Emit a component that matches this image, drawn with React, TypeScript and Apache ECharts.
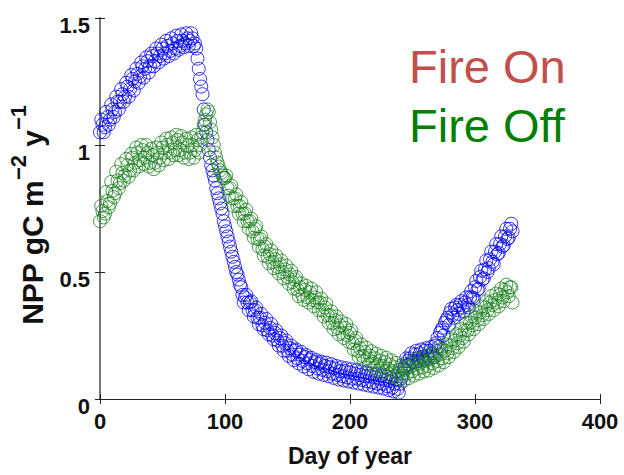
import React, { useEffect, useRef } from "react";
import * as echarts from "echarts";

// Day of year for the first read of each band (even days) and the second read (odd days)
const evenDays = [
  0, 2, 4, 6, 8, 10, 12, 14, 16, 18,
  20, 22, 24, 26, 28, 30, 32, 34, 36, 38,
  40, 42, 44, 46, 48, 50, 52, 54, 56, 58,
  60, 62, 64, 66, 68, 70, 72, 74, 76, 78,
  80, 82, 84, 86, 88, 90, 92, 94, 96, 98,
  100, 102, 104, 106, 108, 110, 112, 114, 116, 118,
  120, 122, 124, 126, 128, 130, 132, 134, 136, 138,
  140, 142, 144, 146, 148, 150, 152, 154, 156, 158,
  160, 162, 164, 166, 168, 170, 172, 174, 176, 178,
  180, 182, 184, 186, 188, 190, 192, 194, 196, 198,
  200, 202, 204, 206, 208, 210, 212, 214, 216, 218,
  220, 222, 224, 226, 228, 230, 232, 234, 236, 238,
  240, 242, 244, 246, 248, 250, 252, 254, 256, 258,
  260, 262, 264, 266, 268, 270, 272, 274, 276, 278,
  280, 282, 284, 286, 288, 290, 292, 294, 296, 298,
  300, 302, 304, 306, 308, 310, 312, 314, 316, 318,
  320, 322, 324, 326, 328, 330,
];

const oddDays = [
  1, 3, 5, 7, 9, 11, 13, 15, 17, 19,
  21, 23, 25, 27, 29, 31, 33, 35, 37, 39,
  41, 43, 45, 47, 49, 51, 53, 55, 57, 59,
  61, 63, 65, 67, 69, 71, 73, 75, 77, 79,
  81, 83, 85, 87, 89, 91, 93, 95, 97, 99,
  101, 103, 105, 107, 109, 111, 113, 115, 117, 119,
  121, 123, 125, 127, 129, 131, 133, 135, 137, 139,
  141, 143, 145, 147, 149, 151, 153, 155, 157, 159,
  161, 163, 165, 167, 169, 171, 173, 175, 177, 179,
  181, 183, 185, 187, 189, 191, 193, 195, 197, 199,
  201, 203, 205, 207, 209, 211, 213, 215, 217, 219,
  221, 223, 225, 227, 229, 231, 233, 235, 237, 239,
  241, 243, 245, 247, 249, 251, 253, 255, 257, 259,
  261, 263, 265, 267, 269, 271, 273, 275, 277, 279,
  281, 283, 285, 287, 289, 291, 293, 295, 297, 299,
  301, 303, 305, 307, 309, 311, 313, 315, 317, 319,
  321, 323, 325, 327, 329,
];

// Fire On (blue), NPP gC m-2 y-1
const fireOnEven = [
  1.05, 1.08, 1.07, 1.11, 1.1, 1.14, 1.13, 1.17, 1.17, 1.2,
  1.19, 1.23, 1.22, 1.26, 1.25, 1.28, 1.27, 1.31, 1.3, 1.33,
  1.31, 1.35, 1.33, 1.36, 1.35, 1.38, 1.36, 1.39, 1.37, 1.4,
  1.38, 1.41, 1.39, 1.41, 1.4, 1.42, 1.41, 1.42, 1.4, 1.34,
  1.26, 1.2, 1.08, 1.02, 0.95, 0.9, 0.86, 0.81, 0.77, 0.73,
  0.68, 0.64, 0.6, 0.56, 0.52, 0.49, 0.45, 0.41, 0.4, 0.38,
  0.38, 0.35, 0.35, 0.32, 0.32, 0.29, 0.3, 0.27, 0.28, 0.25,
  0.26, 0.23, 0.24, 0.21, 0.22, 0.19, 0.2, 0.175, 0.19, 0.16,
  0.175, 0.15, 0.165, 0.14, 0.155, 0.13, 0.145, 0.12, 0.14, 0.115,
  0.13, 0.11, 0.125, 0.1, 0.12, 0.095, 0.11, 0.09, 0.11, 0.085,
  0.105, 0.08, 0.1, 0.08, 0.095, 0.075, 0.09, 0.07, 0.09, 0.065,
  0.085, 0.06, 0.08, 0.06, 0.075, 0.05, 0.07, 0.045, 0.06, 0.04,
  0.06, 0.1, 0.13, 0.15, 0.16, 0.15, 0.175, 0.16, 0.18, 0.165,
  0.19, 0.17, 0.19, 0.18, 0.21, 0.24, 0.26, 0.28, 0.3, 0.32,
  0.34, 0.33, 0.36, 0.35, 0.37, 0.36, 0.38, 0.37, 0.4, 0.4,
  0.44, 0.43, 0.48, 0.47, 0.51, 0.5, 0.55, 0.54, 0.58, 0.57,
  0.61, 0.6, 0.64, 0.63, 0.67, 0.66,
];

const fireOnOdd = [
  1.1, 1.05, 1.13, 1.08, 1.16, 1.11, 1.19, 1.14, 1.22, 1.17,
  1.245, 1.19, 1.275, 1.215, 1.3, 1.245, 1.325, 1.265, 1.345, 1.285,
  1.36, 1.31, 1.38, 1.325, 1.395, 1.34, 1.41, 1.35, 1.42, 1.36,
  1.43, 1.375, 1.435, 1.385, 1.44, 1.39, 1.44, 1.39, 1.38, 1.3,
  1.23, 1.14, 1.05, 0.98, 0.92, 0.88, 0.83, 0.79, 0.75, 0.7,
  0.66, 0.62, 0.58, 0.54, 0.5, 0.47, 0.44, 0.38, 0.41, 0.35,
  0.385, 0.325, 0.36, 0.295, 0.335, 0.275, 0.315, 0.255, 0.295, 0.235,
  0.27, 0.21, 0.25, 0.19, 0.23, 0.17, 0.21, 0.153, 0.195, 0.14,
  0.185, 0.128, 0.173, 0.117, 0.162, 0.107, 0.153, 0.1, 0.147, 0.095,
  0.143, 0.09, 0.137, 0.083, 0.13, 0.077, 0.125, 0.073, 0.121, 0.069,
  0.117, 0.065, 0.113, 0.061, 0.109, 0.057, 0.105, 0.053, 0.101, 0.049,
  0.097, 0.045, 0.093, 0.041, 0.089, 0.035, 0.083, 0.03, 0.077, 0.025,
  0.08, 0.12, 0.16, 0.135, 0.18, 0.145, 0.19, 0.15, 0.195, 0.155,
  0.2, 0.16, 0.205, 0.165, 0.22, 0.205, 0.27, 0.25, 0.31, 0.29,
  0.355, 0.32, 0.37, 0.335, 0.385, 0.345, 0.4, 0.36, 0.425, 0.395,
  0.465, 0.435, 0.505, 0.475, 0.545, 0.515, 0.58, 0.53, 0.61, 0.575,
  0.64, 0.605, 0.67, 0.635, 0.69,
];

// Fire Off (green), NPP gC m-2 y-1
const fireOffEven = [
  0.7, 0.74, 0.73, 0.78, 0.77, 0.82, 0.81, 0.86, 0.85, 0.89,
  0.88, 0.92, 0.9, 0.95, 0.93, 0.97, 0.94, 0.98, 0.95, 0.97,
  0.93, 0.96, 0.93, 0.97, 0.95, 0.99, 0.97, 1.0, 0.97, 1.01,
  0.98, 1.02, 0.98, 1.01, 0.97, 1.0, 0.97, 1.0, 0.98, 1.02,
  1.0, 1.05, 1.1, 1.14, 1.09, 1.03, 0.97, 0.93, 0.9, 0.88,
  0.87, 0.83, 0.83, 0.79, 0.79, 0.76, 0.76, 0.73, 0.73, 0.7,
  0.7, 0.66, 0.67, 0.63, 0.63, 0.59, 0.6, 0.56, 0.57, 0.54,
  0.55, 0.52, 0.53, 0.5, 0.51, 0.48, 0.49, 0.46, 0.47, 0.43,
  0.44, 0.41, 0.43, 0.4, 0.42, 0.39, 0.4, 0.38, 0.38, 0.35,
  0.36, 0.33, 0.33, 0.3, 0.31, 0.28, 0.29, 0.26, 0.28, 0.25,
  0.26, 0.22, 0.23, 0.19, 0.2, 0.17, 0.185, 0.16, 0.17, 0.145,
  0.16, 0.135, 0.15, 0.13, 0.145, 0.12, 0.135, 0.11, 0.125, 0.1,
  0.115, 0.09, 0.115, 0.1, 0.125, 0.11, 0.135, 0.12, 0.14, 0.125,
  0.15, 0.13, 0.155, 0.14, 0.165, 0.15, 0.175, 0.16, 0.19, 0.18,
  0.21, 0.2, 0.23, 0.22, 0.25, 0.24, 0.27, 0.27, 0.3, 0.29,
  0.32, 0.31, 0.34, 0.33, 0.36, 0.35, 0.38, 0.37, 0.39, 0.38,
  0.41, 0.4, 0.43, 0.42, 0.44, 0.38,
];

const fireOffOdd = [
  0.76, 0.715, 0.815, 0.755, 0.855, 0.795, 0.895, 0.83, 0.925, 0.86,
  0.945, 0.875, 0.965, 0.9, 0.99, 0.915, 1.0, 0.925, 1.0, 0.915,
  0.985, 0.905, 0.99, 0.92, 1.01, 0.94, 1.025, 0.945, 1.03, 0.96,
  1.04, 0.96, 1.035, 0.95, 1.025, 0.945, 1.03, 0.95, 1.04, 0.97,
  1.03, 1.08, 1.12, 1.13, 1.06, 1.0, 0.95, 0.915, 0.89, 0.87,
  0.88, 0.8, 0.84, 0.76, 0.805, 0.73, 0.775, 0.7, 0.745, 0.67,
  0.71, 0.635, 0.68, 0.6, 0.64, 0.565, 0.61, 0.535, 0.585, 0.515,
  0.565, 0.495, 0.545, 0.475, 0.525, 0.455, 0.505, 0.435, 0.48, 0.405,
  0.455, 0.39, 0.445, 0.38, 0.435, 0.365, 0.42, 0.35, 0.395, 0.325,
  0.375, 0.3, 0.345, 0.275, 0.325, 0.255, 0.305, 0.24, 0.295, 0.225,
  0.27, 0.195, 0.24, 0.165, 0.215, 0.148, 0.202, 0.135, 0.188, 0.122,
  0.178, 0.112, 0.17, 0.107, 0.162, 0.098, 0.152, 0.088, 0.142, 0.078,
  0.132, 0.072, 0.138, 0.082, 0.148, 0.092, 0.158, 0.1, 0.162, 0.108,
  0.17, 0.112, 0.178, 0.122, 0.188, 0.132, 0.198, 0.145, 0.215, 0.165,
  0.235, 0.185, 0.255, 0.205, 0.275, 0.225, 0.3, 0.255, 0.325, 0.275,
  0.345, 0.295, 0.365, 0.315, 0.385, 0.335, 0.405, 0.35, 0.415, 0.365,
  0.435, 0.385, 0.45, 0.405, 0.44,
];

const seriesNames = ["Fire On", "Fire Off"];
const xAxisTitle = "Day of year";

const FONT = '"Liberation Sans", Arial, Helvetica, sans-serif';
const AXIS_COLOR = "#222";

export default function App() {
  const ref = useRef<HTMLDivElement>(null);

  useEffect(() => {
    document.body.style.margin = "0";
    const chart = echarts.init(ref.current!, undefined, { renderer: "svg" });
    const pairs = (d: number[], vals: number[]) => vals.map((v, i) => [d[i], v]);

    const baseAxisLine = { show: true, lineStyle: { color: AXIS_COLOR, width: 1 } };
    const baseTick = { show: true, inside: true, length: 5, lineStyle: { color: AXIS_COLOR, width: 1 } };
    const labelStyle = {
      fontSize: 22,
      fontWeight: "bold" as const,
      color: "#111",
      fontFamily: FONT,
    };

    chart.setOption({
      animation: false,
      backgroundColor: "#fff",
      grid: { left: 100, right: 24, top: 18, bottom: 76, containLabel: false },
      xAxis: [
        {
          type: "value",
          min: 0,
          max: 400,
          interval: 100,
          position: "bottom",
          axisLine: baseAxisLine,
          axisTick: baseTick,
          splitLine: { show: false },
          axisLabel: { ...labelStyle, margin: 11 },
          name: xAxisTitle,
          nameLocation: "middle",
          nameGap: 45,
          nameTextStyle: { ...labelStyle, fontSize: 23 },
        },
        {
          type: "value",
          min: 0,
          max: 400,
          interval: 100,
          position: "top",
          axisLine: baseAxisLine,
          axisTick: baseTick,
          splitLine: { show: false },
          axisLabel: { show: false },
        },
      ],
      yAxis: [
        {
          type: "value",
          min: 0,
          max: 1.5,
          interval: 0.5,
          position: "left",
          axisLine: baseAxisLine,
          axisTick: baseTick,
          splitLine: { show: false },
          axisLabel: { ...labelStyle, margin: 10, verticalAlign: "top", lineHeight: 14 },
        },
        {
          type: "value",
          min: 0,
          max: 1.5,
          interval: 0.5,
          position: "right",
          axisLine: { show: true, lineStyle: { color: "#777", width: 2 } },
          axisTick: baseTick,
          splitLine: { show: false },
          axisLabel: { show: false },
        },
      ],
      series: [
        {
          name: seriesNames[0],
          type: "scatter",
          data: pairs(evenDays, fireOnEven).concat(pairs(oddDays, fireOnOdd)),
          symbol: "circle",
          symbolSize: 13,
          silent: true,
          itemStyle: { color: "rgba(0,0,0,0)", borderColor: "#0000ee", borderWidth: 1 },
        },
        {
          name: seriesNames[1],
          type: "scatter",
          data: pairs(evenDays, fireOffEven).concat(pairs(oddDays, fireOffOdd)),
          symbol: "circle",
          symbolSize: 13,
          silent: true,
          itemStyle: { color: "rgba(0,0,0,0)", borderColor: "#17801a", borderWidth: 1 },
        },
      ],
      graphic: [
        {
          type: "text",
          x: 409,
          y: 66,
          silent: true,
          style: {
            text: seriesNames[0],
            fill: "#c0504d",
            fontSize: 47,
            fontFamily: FONT,
            align: "left",
            verticalAlign: "middle",
          },
        },
        {
          type: "text",
          x: 409,
          y: 125,
          silent: true,
          style: {
            text: seriesNames[1],
            fill: "#008000",
            fontSize: 47,
            fontFamily: FONT,
            align: "left",
            verticalAlign: "middle",
          },
        },
        {
          type: "text",
          x: 27,
          y: 215,
          rotation: Math.PI / 2,
          silent: true,
          style: {
            text: "{m|NPP gC m}{s|\u22122}{m| y}{s|\u22121}",
            align: "center",
            verticalAlign: "middle",
            fill: "#111",
            rich: {
              m: {
                fontSize: 30,
                fontWeight: "bold",
                fontFamily: FONT,
                fill: "#111",
                lineHeight: 40,
                verticalAlign: "bottom",
              },
              s: {
                fontSize: 22,
                fontWeight: "bold",
                fontFamily: FONT,
                fill: "#111",
                lineHeight: 22,
                verticalAlign: "top",
              },
            },
          },
        },
      ],
    });

    return () => chart.dispose();
  }, []);

  return (
    <div
      ref={ref}
      style={{ position: "absolute", left: 0, top: 0, width: 624, height: 475 }}
    />
  );
}
